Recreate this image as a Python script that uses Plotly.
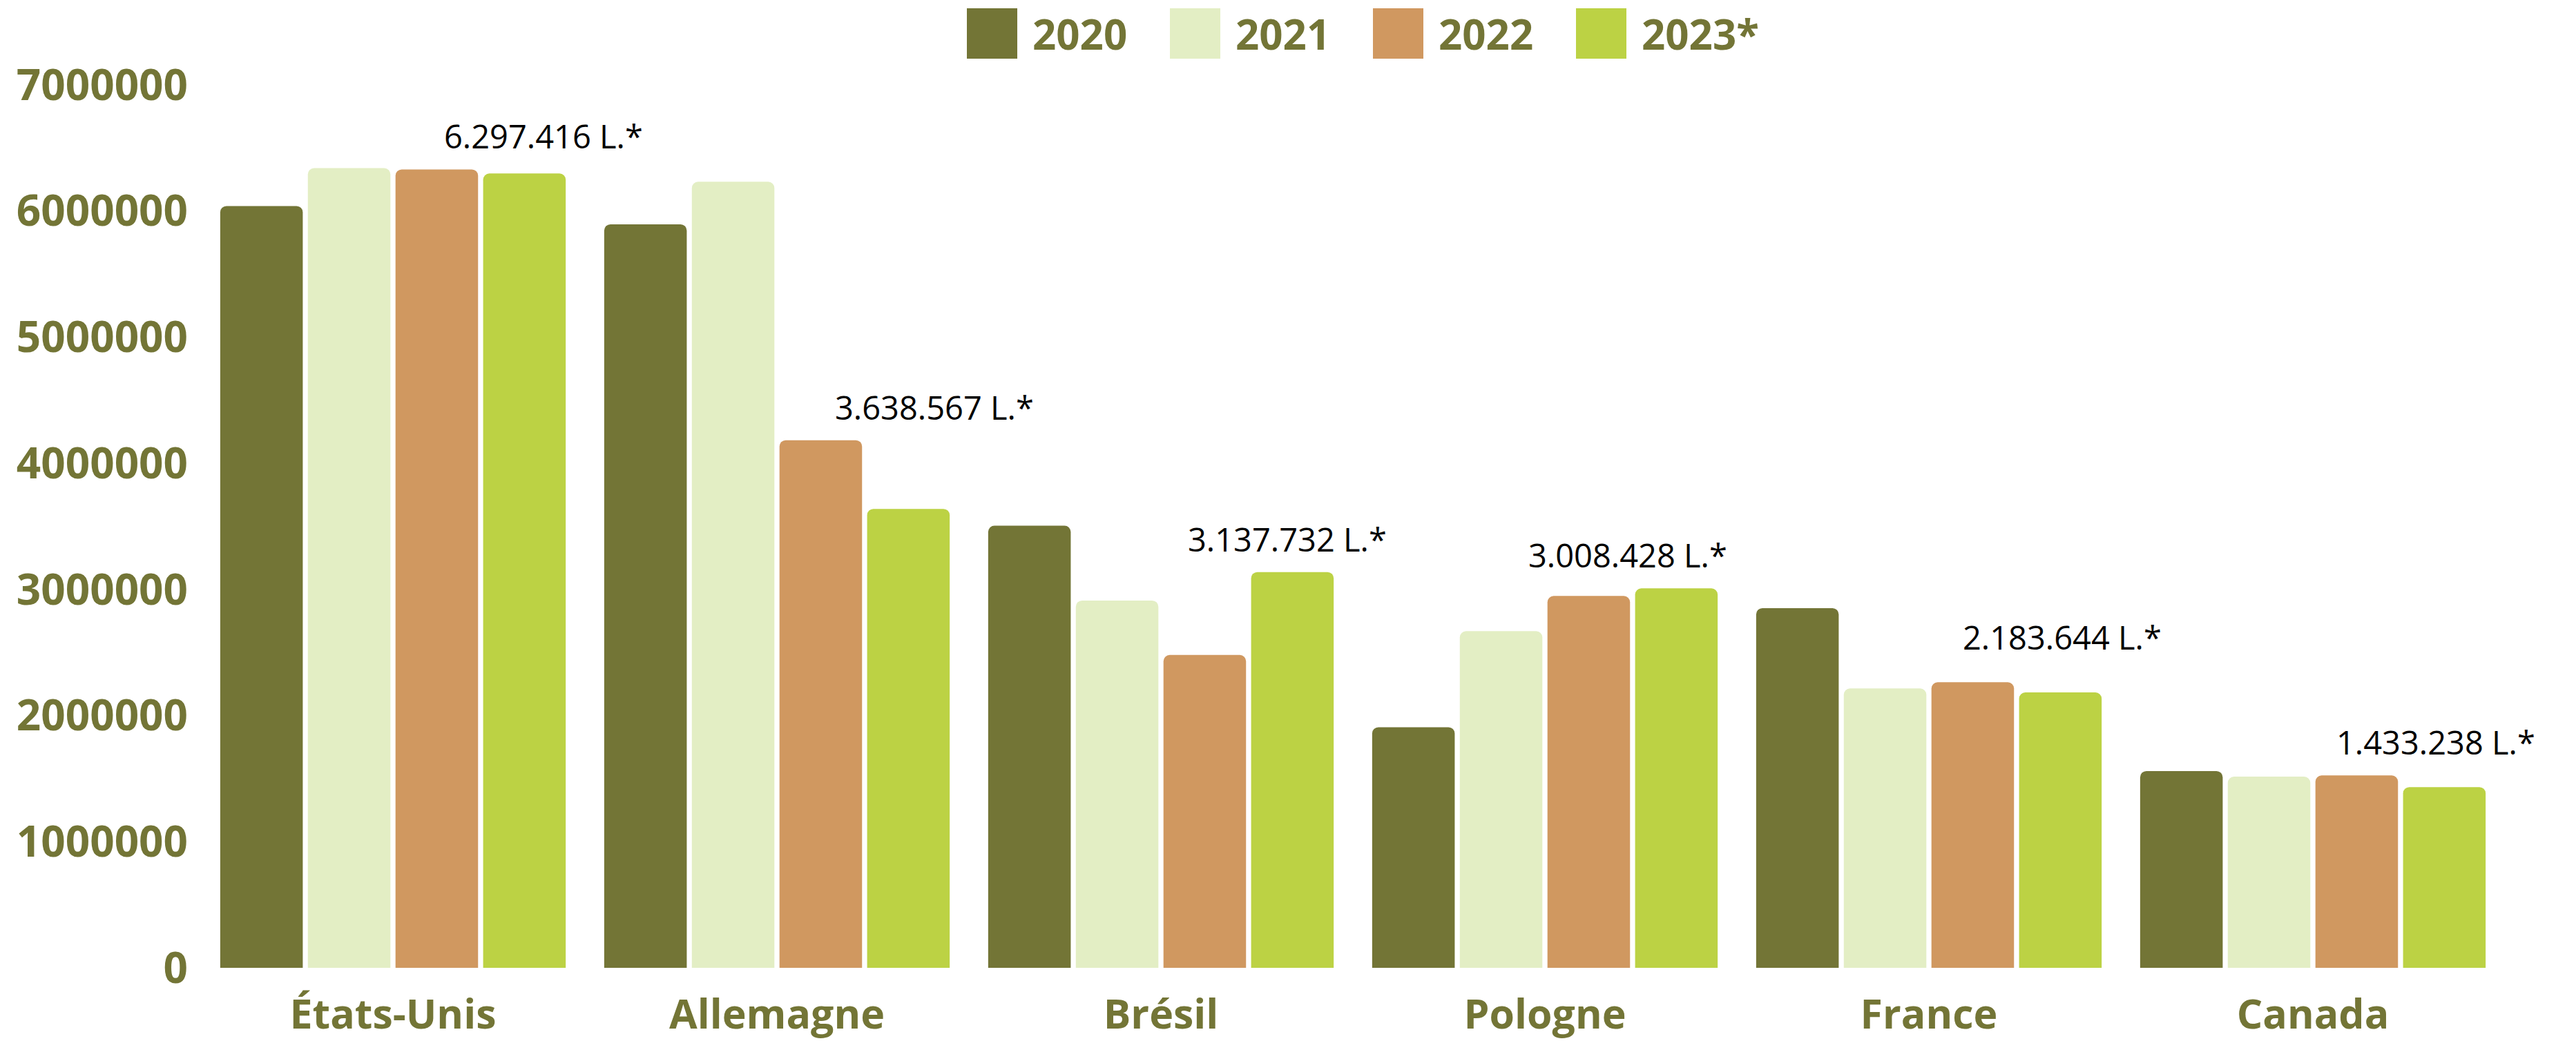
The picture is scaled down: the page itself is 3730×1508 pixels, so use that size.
import plotly.graph_objects as go

countries = ["États-Unis", "Allemagne", "Brésil", "Pologne", "France", "Canada"]
years = ["2020", "2021", "2022", "2023*"]
v2020 = [6040000, 5895000, 3505000, 1908000, 2852000, 1560000]
v2021 = [6340000, 6232000, 2912000, 2669000, 2215000, 1516000]
v2022 = [6330000, 4183000, 2480000, 2948000, 2264000, 1525000]
v2023 = [6297416, 3638567, 3137732, 3008428, 2183644, 1433238]
colors = ["#737536", "#E3EEC4", "#D09860", "#BCD244"]

series = [v2020, v2021, v2022, v2023]
olive = "#737536"

# small nudges of the 2023 labels (px), as placed in the original
label_dx = [25, 35, -10, -73, 0, -15]
label_dy = [0, 0, 0, 0, 17, 0]

W, H = 3730, 1508
ML, MR, MT, MB = 291, 57, 123, 106
plot_w = W - ML - MR
plot_h = H - MT - MB
bargap = 0.087
groupgap = 0.058

fig = go.Figure()
for name, vals, col in zip(years, series, colors):
    fig.add_trace(go.Bar(
        x=countries,
        y=vals,
        name=name,
        marker=dict(color=col, line=dict(width=0)),
        showlegend=False,
    ))

# value labels for 2023, placed over the taller of the two last bars
slot = plot_w / len(countries) * (1 - bargap) / len(years)
for c, v22, v, dx, dy in zip(countries, v2022, v2023, label_dx, label_dy):
    fig.add_annotation(
        x=c, y=max(v22, v), xref="x", yref="y",
        text=f"{v:,}".replace(",", ".") + " L.*",
        showarrow=False, yanchor="bottom",
        xshift=1.5 * slot + dx, yshift=14 + dy,
        font=dict(family="Open Sans", size=47, color="#000000"),
    )

# legend drawn at the top (big swatches)
def px_x(x):
    return (x - ML) / plot_w

def px_y(y):
    return (H - MB - y) / plot_h

for i, (name, col) in enumerate(zip(years, colors)):
    x0 = 1400 + i * 294
    fig.add_shape(type="rect", xref="paper", yref="paper",
                  x0=px_x(x0), x1=px_x(x0 + 73), y0=px_y(85), y1=px_y(12),
                  fillcolor=col, line=dict(width=0))
    fig.add_annotation(
        x=px_x(x0 + 93), y=px_y(49), xref="paper", yref="paper",
        text=name, showarrow=False, xanchor="left", yanchor="middle",
        font=dict(family="Open Sans", size=60, color=olive, weight=700),
    )

fig.update_layout(
    width=W, height=H,
    margin=dict(l=ML, r=MR, t=MT, b=MB, pad=0, autoexpand=False),
    plot_bgcolor="white", paper_bgcolor="white",
    barmode="group", bargap=bargap, bargroupgap=groupgap,
    barcornerradius=9,
    showlegend=False,
    xaxis=dict(
        showgrid=False, showline=False, zeroline=False, ticks="",
        tickfont=dict(family="Open Sans", size=59, color=olive, weight=700),
        ticklabelstandoff=28, automargin=False,
    ),
    yaxis=dict(
        range=[0, 7000000], tickvals=[0, 1000000, 2000000, 3000000, 4000000, 5000000, 6000000, 7000000],
        ticktext=["0", "1000000", "2000000", "3000000", "4000000", "5000000", "6000000", "7000000"],
        showgrid=False, showline=False, zeroline=False, ticks="",
        tickfont=dict(family="Open Sans", size=62, color=olive, weight=700),
        ticklabelstandoff=18, automargin=False,
    ),
)

fig.write_html("out.html", config={"displayModeBar": False},
               post_script="document.body.style.margin='0';")
